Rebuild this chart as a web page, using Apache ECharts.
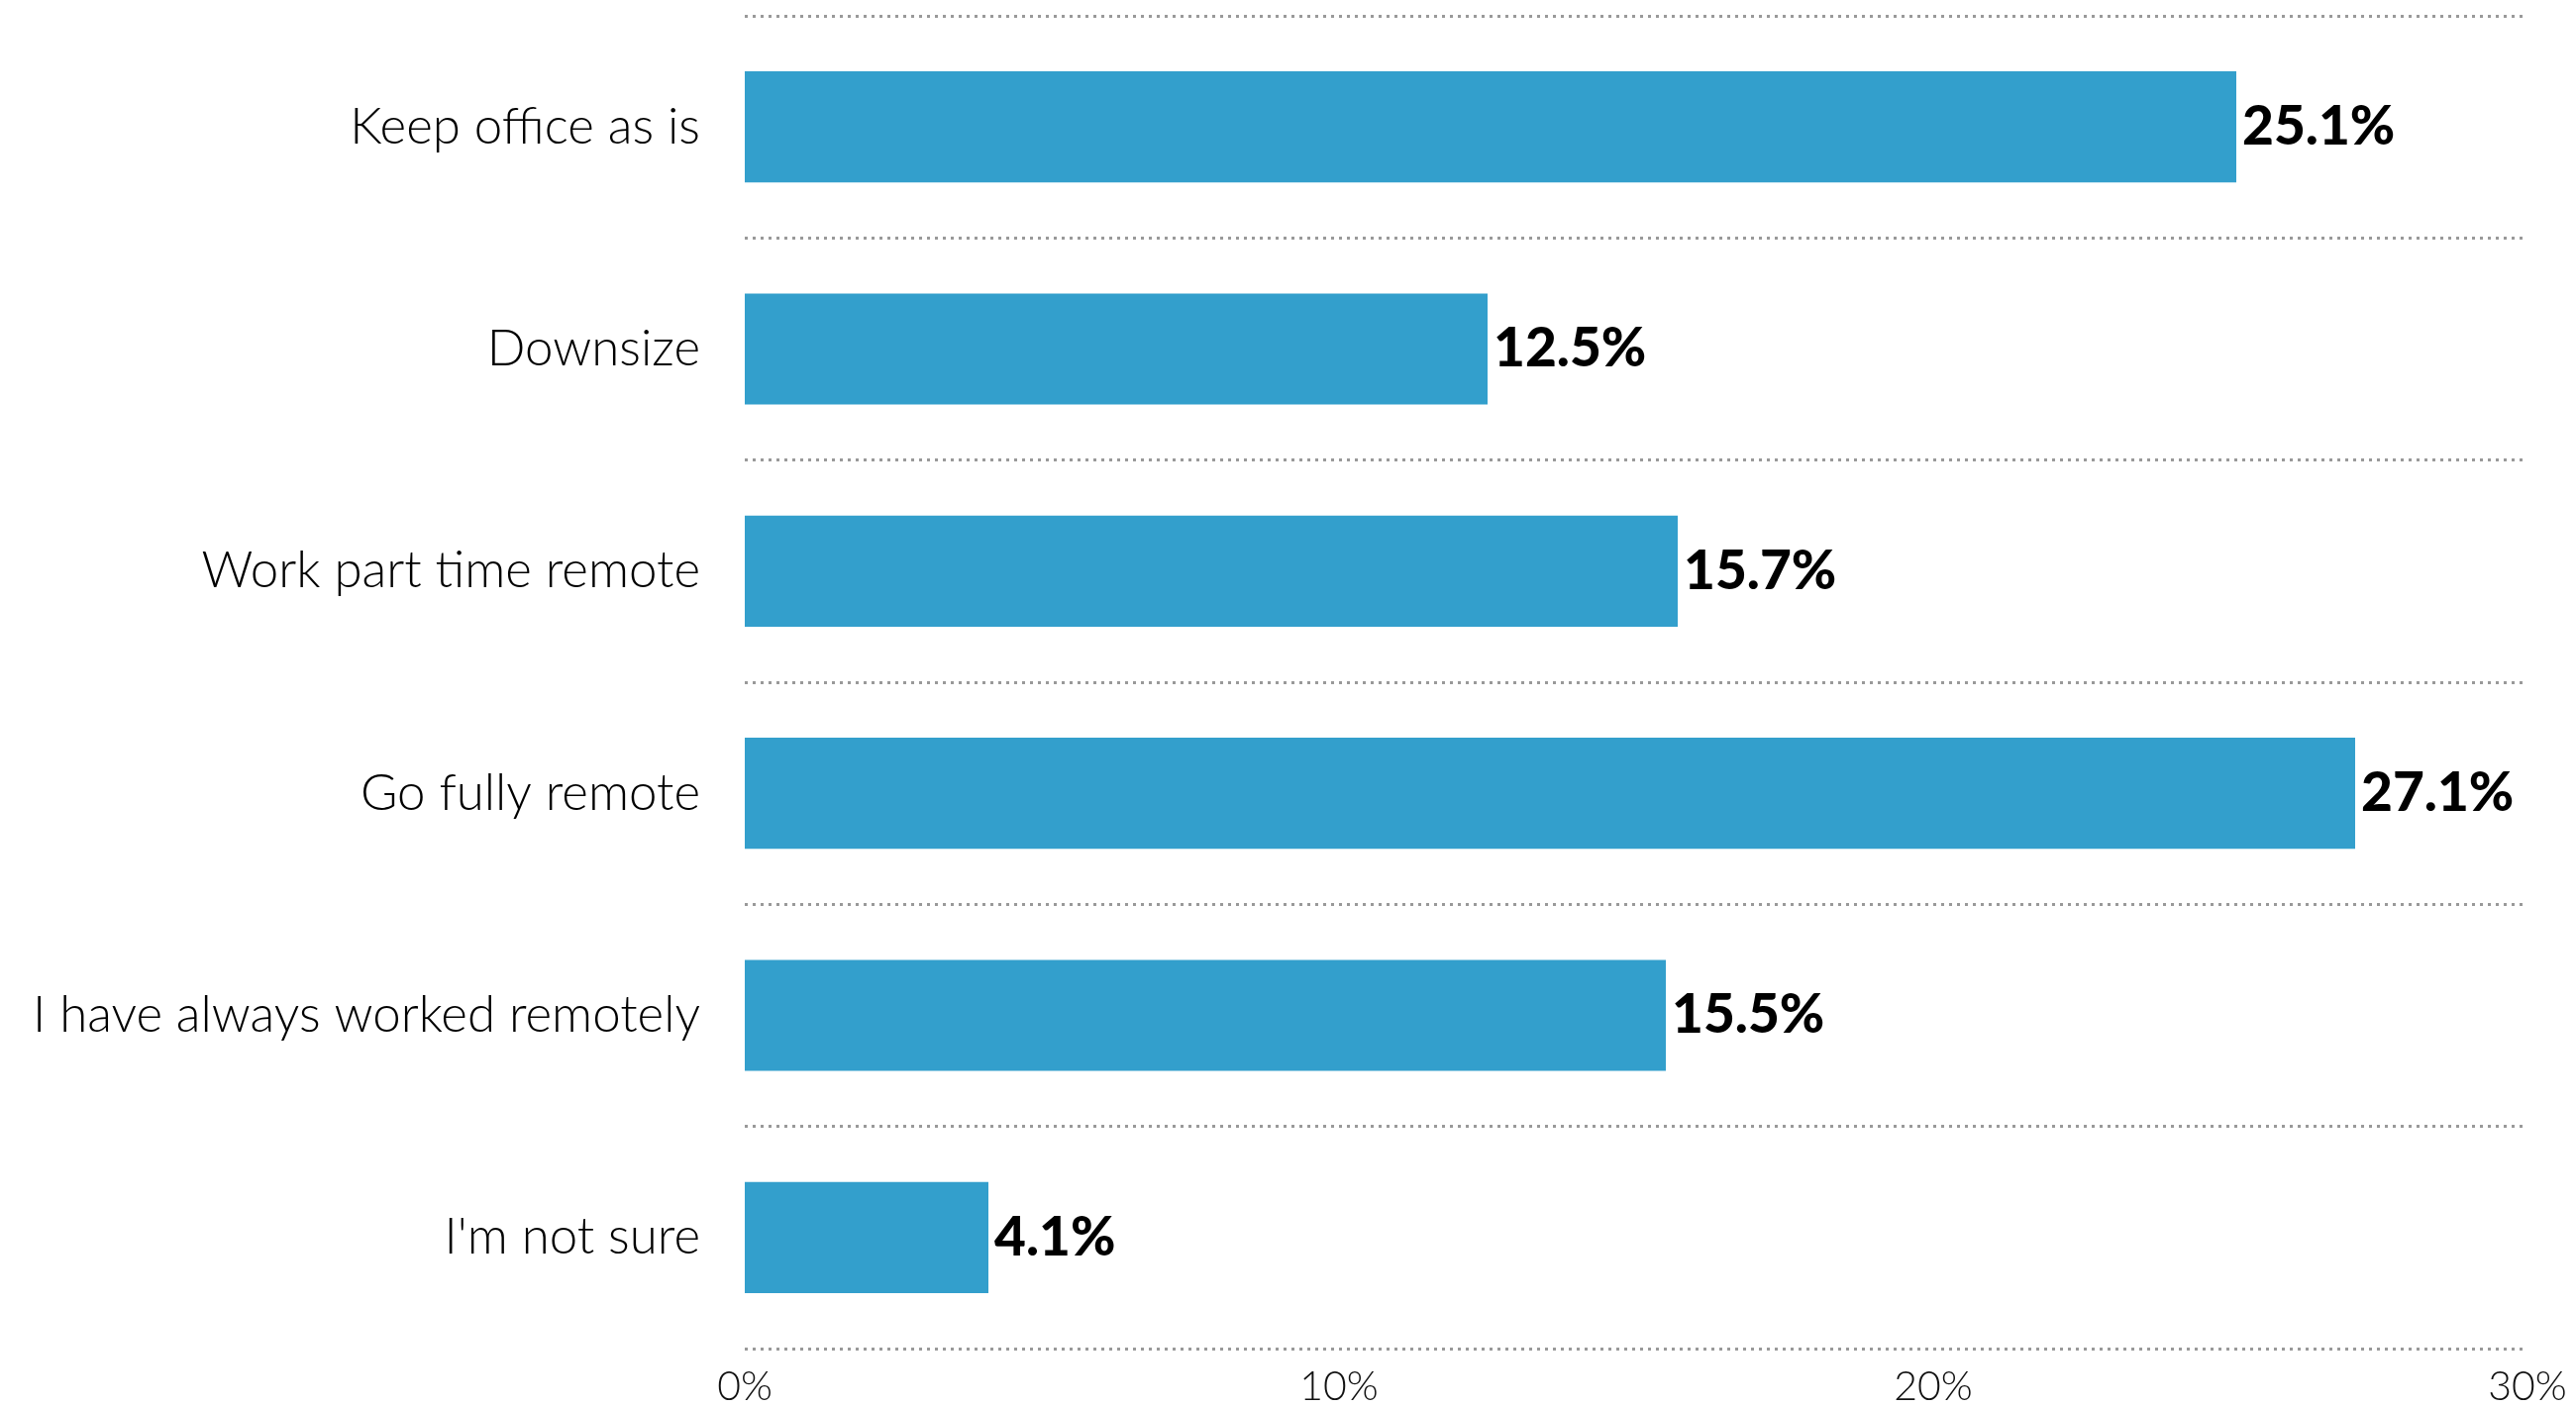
<!DOCTYPE html>
<html>
<head>
<meta charset="utf-8">
<script src="https://cdn.jsdelivr.net/npm/echarts@6/dist/echarts.min.js"></script>
<style>
  html, body { margin: 0; padding: 0; background: #fff; }
  #chart { width: 2601px; height: 1421px; }
</style>
</head>
<body>
<div id="chart"></div>
<script>
// answers, top to bottom
const categories = ['Keep office as is', 'Downsize', 'Work part time remote', 'Go fully remote', 'I have always worked remotely', "I'm not sure"]
const shares = [25.1, 12.5, 15.7, 27.1, 15.5, 4.1]
const xTicks = [0, 10, 20, 30]

const chart = echarts.init(document.getElementById('chart'))

const option = {
  animation: false,
  backgroundColor: '#fff',
  grid: {
    left: 752,
    right: 49,
    top: 16,
    bottom: 57
  },
  xAxis: {
    type: 'value',
    min: xTicks[0],
    max: xTicks[xTicks.length - 1],
    interval: xTicks[1] - xTicks[0],
    axisLine: { show: false },
    axisTick: { show: false },
    splitLine: { show: false },
    axisLabel: {
      formatter: '{value}%',
      fontFamily: 'Lato',
      fontWeight: 300,
      fontSize: 41,
      color: '#111',
      margin: 18
    }
  },
  yAxis: {
    type: 'category',
    data: categories,
    inverse: true,
    axisLine: { show: false },
    axisTick: { show: false },
    splitLine: {
      show: true,
      interval: 0,
      lineStyle: { color: '#999', width: 3, type: [3, 5] }
    },
    axisLabel: {
      fontFamily: 'Lato',
      fontWeight: 300,
      fontSize: 51,
      color: '#000',
      margin: 45
    }
  },
  series: [{
    type: 'bar',
    data: shares,
    barWidth: '50%',
    itemStyle: { color: '#339fcc' },
    label: {
      show: true,
      position: 'right',
      distance: 6,
      formatter: '{c}%',
      fontFamily: 'Lato',
      fontWeight: 900,
      fontSize: 55,
      color: '#000'
    }
  }]
}

chart.setOption(option)
</script>
</body>
</html>
